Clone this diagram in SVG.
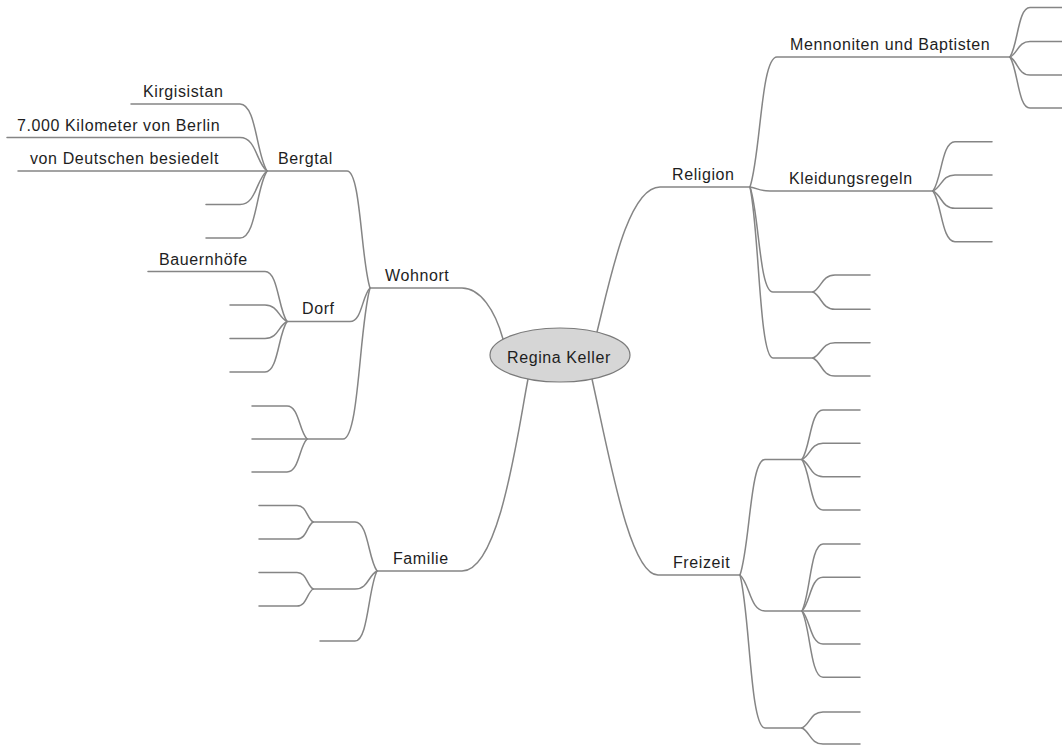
<svg xmlns="http://www.w3.org/2000/svg" width="1062" height="747" viewBox="0 0 1062 747">
<style>
.c{fill:none;stroke:#858585;stroke-width:1.5;stroke-linecap:round}
.t{font-family:"Liberation Sans",Arial,sans-serif;font-size:16px;letter-spacing:0.6px;fill:#1e1e1e}
.root{fill:#d6d6d6;stroke:#7a7a7a;stroke-width:1.2}
</style>
<rect width="1062" height="747" fill="#ffffff"/>
<g id="connectors">
<!-- root to main -->
<path class="c" d="M503 339 C495 310 480 288 462 288 L370 288"/>
<path class="c" d="M528 379 C518 430 500 571 462 571 L377 571"/>
<path class="c" d="M597 332 C610 280 628 187 660 187 L750 187"/>
<path class="c" d="M592 379 C610 460 630 575 658 575 L740 575"/>
<!-- Wohnort children -->
<path class="c" d="M370 288 C360.8 259 360.8 171 347 171 L267 171"/>
<path class="c" d="M370 288 C362 296 362 321.5 350 321.5 L287 321.5"/>
<path class="c" d="M370 288 C359.2 326 359.2 439 343 439 L307 439"/>
<!-- Bergtal children -->
<path class="c" d="M267 171 C256.2 154 256.2 104 240 104 L131 104"/>
<path class="c" d="M267 171 C256.2 162.6 256.2 137.5 240 137.5 L7 137.5"/>
<path class="c" d="M267 171 L18 171"/>
<path class="c" d="M267 171 C256.2 179.4 256.2 204.5 240 204.5 L206 204.5"/>
<path class="c" d="M267 171 C256.2 187.8 256.2 238 240 238 L206 238"/>
<!-- Dorf children -->
<path class="c" d="M287 321.5 C278.2 309 278.2 271.5 265 271.5 L148 271.5"/>
<path class="c" d="M287 321.5 C278.2 317.4 278.2 305 265 305 L230 305"/>
<path class="c" d="M287 321.5 C278.2 325.8 278.2 338.5 265 338.5 L230 338.5"/>
<path class="c" d="M287 321.5 C278.2 334.1 278.2 372 265 372 L230 372"/>
<!-- Wohnort third child -->
<path class="c" d="M307 439 C299 430.8 299 406 287 406 L252 406"/>
<path class="c" d="M307 439 L252 439"/>
<path class="c" d="M307 439 C299 447.3 299 472 287 472 L252 472"/>
<!-- Familie children -->
<path class="c" d="M377 571 C368.2 558.8 368.2 522 355 522 L313 522"/>
<path class="c" d="M377 571 C368.2 575.5 368.2 589 355 589 L313 589"/>
<path class="c" d="M377 571 C368.2 588.5 368.2 641 355 641 L320 641"/>
<path class="c" d="M313 522 C306.6 517.9 306.6 505.5 297 505.5 L259 505.5"/>
<path class="c" d="M313 522 C306.6 526.2 306.6 539 297 539 L259 539"/>
<path class="c" d="M313 589 C306.6 584.9 306.6 572.5 297 572.5 L259 572.5"/>
<path class="c" d="M313 589 C306.6 593.3 306.6 606 297 606 L259 606"/>
<!-- Religion children -->
<path class="c" d="M750 187 C760.8 154.5 760.8 57 777 57 L1010 57"/>
<path class="c" d="M750 187 C758 188 758 191 770 191 L933 191"/>
<path class="c" d="M750 187 C759.2 213.3 759.2 292 773 292 L813 292"/>
<path class="c" d="M750 187 C759.2 229.8 759.2 358 773 358 L813 358"/>
<!-- Mennoniten children -->
<path class="c" d="M1010 57 C1018 44.6 1018 7.5 1030 7.5 L1062 7.5"/>
<path class="c" d="M1010 57 C1018 53.1 1018 41.5 1030 41.5 L1062 41.5"/>
<path class="c" d="M1010 57 C1018 61.5 1018 75 1030 75 L1062 75"/>
<path class="c" d="M1010 57 C1018 69.8 1018 108 1030 108 L1062 108"/>
<!-- Kleidungsregeln children -->
<path class="c" d="M933 191 C941.8 178.7 941.8 141.7 955 141.7 L992 141.7"/>
<path class="c" d="M933 191 C941.8 187 941.8 175 955 175 L992 175"/>
<path class="c" d="M933 191 C941.8 195.3 941.8 208.3 955 208.3 L992 208.3"/>
<path class="c" d="M933 191 C941.8 203.7 941.8 241.7 955 241.7 L992 241.7"/>
<!-- Religion sub children -->
<path class="c" d="M813 292 C821.8 287.8 821.8 275 835 275 L870 275"/>
<path class="c" d="M813 292 C821.8 296.3 821.8 309.3 835 309.3 L870 309.3"/>
<path class="c" d="M813 358 C821.8 354.2 821.8 342.7 835 342.7 L870 342.7"/>
<path class="c" d="M813 358 C821.8 362.5 821.8 376 835 376 L870 376"/>
<!-- Freizeit children -->
<path class="c" d="M740 575 C750 546 750 459.5 765 459.5 L802 459.5"/>
<path class="c" d="M740 575 C750 584 750 611 765 611 L802 611"/>
<path class="c" d="M740 575 C750 613.3 750 728 765 728 L802 728"/>
<path class="c" d="M802 459.5 C810.4 447.1 810.4 410 823 410 L860 410"/>
<path class="c" d="M802 459.5 C810.4 455.5 810.4 443.3 823 443.3 L860 443.3"/>
<path class="c" d="M802 459.5 C810.4 463.8 810.4 476.7 823 476.7 L860 476.7"/>
<path class="c" d="M802 459.5 C810.4 472.1 810.4 510 823 510 L860 510"/>
<path class="c" d="M802 611 C810.4 594.3 810.4 544 823 544 L860 544"/>
<path class="c" d="M802 611 C810.4 602.6 810.4 577.3 823 577.3 L860 577.3"/>
<path class="c" d="M802 611 L860 611"/>
<path class="c" d="M802 611 C810.4 619.3 810.4 644 823 644 L860 644"/>
<path class="c" d="M802 611 C810.4 627.6 810.4 677.3 823 677.3 L860 677.3"/>
<path class="c" d="M802 728 C810.4 724 810.4 712 823 712 L860 712"/>
<path class="c" d="M802 728 C810.4 732 810.4 744 823 744 L860 744"/>
</g>
<g id="node-root">
<ellipse class="root" cx="560" cy="355" rx="70" ry="27"/>
<text class="t" x="507" y="363">Regina Keller</text>
</g>
<g id="node-wohnort"><text class="t" x="385" y="281">Wohnort</text></g>
<g id="node-bergtal"><text class="t" x="278" y="164">Bergtal</text></g>
<g id="node-kirgisistan"><text class="t" x="143" y="97">Kirgisistan</text></g>
<g id="node-kilometer"><text class="t" x="17" y="131">7.000 Kilometer von Berlin</text></g>
<g id="node-besiedelt"><text class="t" x="30" y="164">von Deutschen besiedelt</text></g>
<g id="node-dorf"><text class="t" x="302" y="314">Dorf</text></g>
<g id="node-bauernhoefe"><text class="t" x="159" y="265">Bauernhöfe</text></g>
<g id="node-familie"><text class="t" x="393" y="564">Familie</text></g>
<g id="node-religion"><text class="t" x="672" y="180">Religion</text></g>
<g id="node-mennoniten"><text class="t" x="790" y="50">Mennoniten und Baptisten</text></g>
<g id="node-kleidung"><text class="t" x="789" y="184">Kleidungsregeln</text></g>
<g id="node-freizeit"><text class="t" x="673" y="568">Freizeit</text></g>
</svg>
